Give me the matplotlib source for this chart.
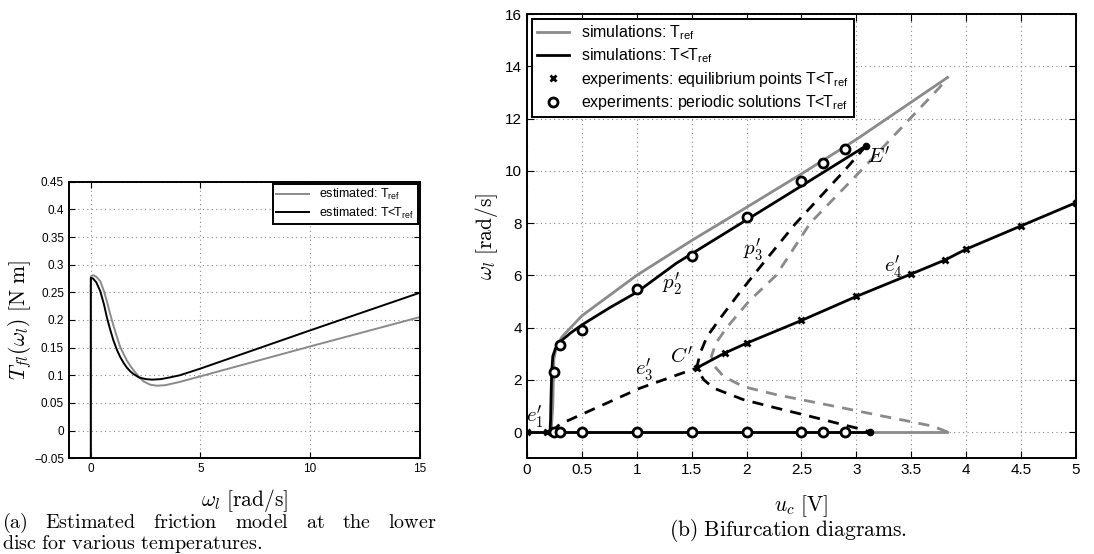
import matplotlib
matplotlib.use("Agg")
import matplotlib.pyplot as plt

plt.rcParams['font.family'] = ['Liberation Sans', 'DejaVu Sans']
plt.rcParams['mathtext.fontset'] = 'custom'
plt.rcParams['mathtext.rm'] = 'Liberation Sans'
plt.rcParams['mathtext.it'] = 'Liberation Sans:italic'

GRAY = '#8a8a8a'
DASH = (0, (4, 3))

# (a) friction model
w_ref = [0, 0, 0.1, 0.25, 0.43, 0.6, 0.75, 0.88, 1.03, 1.2, 1.34, 1.5, 1.64, 1.8,
         1.95, 2.2, 2.4, 2.7, 3.0, 3.4, 4.07, 5, 10, 15]
T_ref = [-0.06, 0.279, 0.281, 0.278, 0.27, 0.252, 0.231, 0.211, 0.19, 0.168, 0.151,
         0.138, 0.127, 0.117, 0.109, 0.097, 0.089, 0.083, 0.081, 0.082, 0.088, 0.098,
         0.152, 0.205]
w_cold = [0, 0, 0.1, 0.25, 0.43, 0.6, 0.73, 0.88, 1.03, 1.2, 1.34, 1.5, 1.64, 1.8,
          1.95, 2.2, 2.5, 2.8, 3.2, 3.6, 4.07, 5, 10, 15]
T_cold = [-0.06, 0.276, 0.275, 0.268, 0.252, 0.228, 0.205, 0.183, 0.163, 0.145, 0.133,
          0.122, 0.114, 0.107, 0.102, 0.096, 0.093, 0.092, 0.093, 0.096, 0.1, 0.112,
          0.181, 0.249]

# (b) bifurcation diagrams
# simulations T_ref
u_ref_up = [0.22, 0.235, 0.24, 0.245, 0.27, 0.32, 0.5, 1.0, 1.5, 2.0, 2.5, 3.0, 3.83]
w_ref_up = [0, 1.0, 2.0, 2.8, 3.3, 3.65, 4.45, 6.0, 7.33, 8.6, 9.88, 11.2, 13.57]
u_ref_un = [3.83, 3.7, 3.48, 3.18, 2.88, 2.58, 2.27, 1.97, 1.79, 1.71, 1.68, 1.72,
            1.82, 2.02, 2.27, 2.58, 3.04, 3.76, 3.83]
w_ref_un = [0, 0.22, 0.41, 0.66, 0.92, 1.17, 1.43, 1.74, 2.13, 2.51, 2.9, 3.4,
            4.0, 5.0, 6.0, 8.0, 10.0, 13.2, 13.57]
u_ref_eq = [0, 3.83]
w_ref_eq = [0, 0]
# simulations T<T_ref
u_cold_up = [0.21, 0.215, 0.22, 0.225, 0.235, 0.26, 0.3, 0.4, 0.5, 0.75, 1.0, 1.36, 2.0, 2.5, 3.09]
w_cold_up = [0, 0.5, 1.5, 2.3, 2.9, 3.2, 3.45, 3.8, 4.1, 4.75, 5.35, 6.46, 8.12, 9.42, 10.96]
u_cold_un = [3.09, 2.89, 2.44, 2.12, 1.93, 1.75, 1.64, 1.58, 1.545, 1.61, 1.70, 1.97,
             2.27, 2.58, 2.88, 3.06, 3.12]
w_cold_un = [10.96, 10.0, 7.95, 6.3, 5.3, 4.3, 3.65, 3.05, 2.45, 2.0, 1.68, 1.24,
             0.92, 0.6, 0.28, 0.09, 0]
u_e3 = [0.22, 0.3, 1.03, 1.545]
w_e3 = [0, 0.3, 1.68, 2.45]
u_e4 = [1.545, 1.8, 2.0, 2.5, 3.0, 3.5, 3.81, 4.0, 4.5, 5.0]
w_e4 = [2.45, 3.02, 3.4, 4.27, 5.19, 6.05, 6.59, 7.0, 7.89, 8.78]
u_cold_eq = [0, 3.12]
w_cold_eq = [0, 0]
# experiments
u_exp_eq = [0, 0.18, 1.545, 1.8, 2.0, 2.5, 3.0, 3.5, 3.81, 4.0, 4.5, 5.0]
w_exp_eq = [0, 0, 2.45, 3.02, 3.4, 4.27, 5.19, 6.05, 6.59, 7.0, 7.89, 8.78]
u_exp_po = [0.25, 0.3, 0.5, 1.0, 1.5, 2.0, 2.5, 2.7, 2.9,
            0.25, 0.3, 0.5, 1.0, 1.5, 2.0, 2.5, 2.7, 2.9]
w_exp_po = [2.28, 3.34, 3.89, 5.47, 6.72, 8.22, 9.61, 10.29, 10.82,
            0, 0, 0, 0, 0, 0, 0, 0, 0]
u_dots = [3.09, 3.12]
w_dots = [10.96, 0]

caption_a1 = ['(a)', 'Estimated', 'friction', 'model', 'at', 'the', 'lower']
caption_a2 = 'disc for various temperatures.'
caption_b = '(b) Bifurcation diagrams.'

fig = plt.figure(figsize=(10.94, 5.54), dpi=100)
W, H = 1094, 554

# ---------- left panel ----------
ax1 = fig.add_axes([0.063, 0.173, 0.3205, 0.499])
ax1.plot(w_ref, T_ref, color=GRAY, lw=1.4, label=r'estimated: T$_{\mathrm{ref}}$')
ax1.plot(w_cold, T_cold, color='black', lw=1.4, label=r'estimated: T<T$_{\mathrm{ref}}$')
ax1.set_xlim(-1, 15)
ax1.set_ylim(-0.05, 0.45)
ax1.set_xticks([0, 5, 10, 15])
ax1.set_yticks([-0.05, 0, 0.05, 0.1, 0.15, 0.2, 0.25, 0.3, 0.35, 0.4, 0.45])
ax1.set_yticklabels(['\u22120.05', '0', '0.05', '0.1', '0.15', '0.2', '0.25', '0.3',
                     '0.35', '0.4', '0.45'])
ax1.tick_params(direction='in', top=True, right=True, labelsize=8.5, length=4)
ax1.grid(True, linestyle=(0, (1, 3)), color='#888888', lw=0.8)
for s in ax1.spines.values():
    s.set_linewidth(1.4)
ax1.set_xlabel(r'$\omega_l\ \mathrm{[rad/s]}$', fontsize=15.5, math_fontfamily='cm')
ax1.xaxis.set_label_coords(0.5, -0.105)
ax1.set_ylabel(r'$T_{fl}(\omega_l)\ \mathrm{[N\ m]}$', fontsize=15.5, math_fontfamily='cm')
ax1.yaxis.set_label_coords(-0.1, 0.5)
leg1 = ax1.legend(loc='upper right', fontsize=9, fancybox=False, framealpha=1,
                  edgecolor='black', handlelength=2.6, borderaxespad=0.15,
                  labelspacing=0.25, borderpad=0.3)
leg1.get_frame().set_linewidth(1.4)

# ---------- right panel ----------
ax2 = fig.add_axes([0.4817, 0.173, 0.5018, 0.8017])
ax2.plot(u_ref_eq, w_ref_eq, color=GRAY, lw=2, label=r'simulations: T$_{\mathrm{ref}}$')
ax2.plot(u_ref_up, w_ref_up, color=GRAY, lw=2)
ax2.plot(u_ref_un, w_ref_un, color=GRAY, lw=2, ls=DASH)
ax2.plot(u_cold_eq, w_cold_eq, color='black', lw=2, label=r'simulations: T<T$_{\mathrm{ref}}$')
ax2.plot(u_cold_up, w_cold_up, color='black', lw=2)
ax2.plot(u_cold_un, w_cold_un, color='black', lw=2, ls=DASH)
ax2.plot(u_e3, w_e3, color='black', lw=2, ls=DASH)
ax2.plot(u_e4, w_e4, color='black', lw=2)
ax2.plot(u_exp_eq, w_exp_eq, ls='none', marker='x', ms=4.5, mew=2, color='black',
         label=r'experiments: equilibrium points T<T$_{\mathrm{ref}}$')
ax2.plot(u_exp_po, w_exp_po, ls='none', marker='o', ms=6.5, mew=2, mfc='white',
         mec='black', label=r'experiments: periodic solutions T<T$_{\mathrm{ref}}$')
ax2.plot(u_dots, w_dots, ls='none', marker='o', ms=4.5, color='black')
ax2.set_xlim(0, 5)
ax2.set_ylim(-1, 16)
ax2.set_xticks([0, 0.5, 1, 1.5, 2, 2.5, 3, 3.5, 4, 4.5, 5])
ax2.set_xticklabels(['0', '0.5', '1', '1.5', '2', '2.5', '3', '3.5', '4', '4.5', '5'])
ax2.set_yticks(range(0, 17, 2))
ax2.tick_params(direction='in', top=True, right=True, labelsize=11, length=5)
ax2.grid(True, linestyle=(0, (1, 3)), color='#888888', lw=0.8)
for s in ax2.spines.values():
    s.set_linewidth(1.4)
ax2.set_xlabel(r'$u_c\ \mathrm{[V]}$', fontsize=15.5, math_fontfamily='cm')
ax2.xaxis.set_label_coords(0.5, -0.078)
ax2.set_ylabel(r'$\omega_l\ \mathrm{[rad/s]}$', fontsize=15.5, math_fontfamily='cm')
ax2.yaxis.set_label_coords(-0.05, 0.5)
leg2 = ax2.legend(loc='upper left', fontsize=11.5, fancybox=False, framealpha=1,
                  edgecolor='black', handlelength=2.0, borderaxespad=0.3,
                  labelspacing=0.28, borderpad=0.3)
leg2.get_frame().set_linewidth(1.4)

# branch labels
lab = dict(fontsize=15, math_fontfamily='cm', ha='center', va='center')
ax2.text(0.07, 0.6, r"$e_1'$", **lab)
ax2.text(1.07, 2.38, r"$e_3'$", **lab)
ax2.text(1.41, 2.89, r"$C'$", **lab)
ax2.text(1.32, 5.7, r"$p_2'$", **lab)
ax2.text(2.06, 6.97, r"$p_3'$", **lab)
ax2.text(3.2, 10.54, r"$E'$", **lab)
ax2.text(3.34, 6.33, r"$e_4'$", **lab)

# captions
cap = dict(fontsize=14.5, math_fontfamily='cm', va='baseline')
renderer = fig.canvas.get_renderer()
words = [fig.text(0, 1 - 528 / H, r'$\mathrm{%s}$' % w, ha='left', **cap)
         for w in caption_a1]
widths = [t.get_window_extent(renderer).width for t in words]
x0, x1 = 2, 437
gap = (x1 - x0 - sum(widths)) / (len(words) - 1)
x = x0
for t, wd in zip(words, widths):
    t.set_x(x / W)
    x += wd + gap
fig.text(x0 / W, 1 - 549 / H, r'$\mathrm{%s}$' % caption_a2.replace(' ', r'\ '),
         ha='left', **cap)
fig.text(788 / W, 1 - 536 / H, r'$\mathrm{%s}$' % caption_b.replace(' ', r'\ '),
         ha='center', fontsize=15.5, math_fontfamily='cm', va='baseline')

fig.savefig('out.png', dpi=100)
